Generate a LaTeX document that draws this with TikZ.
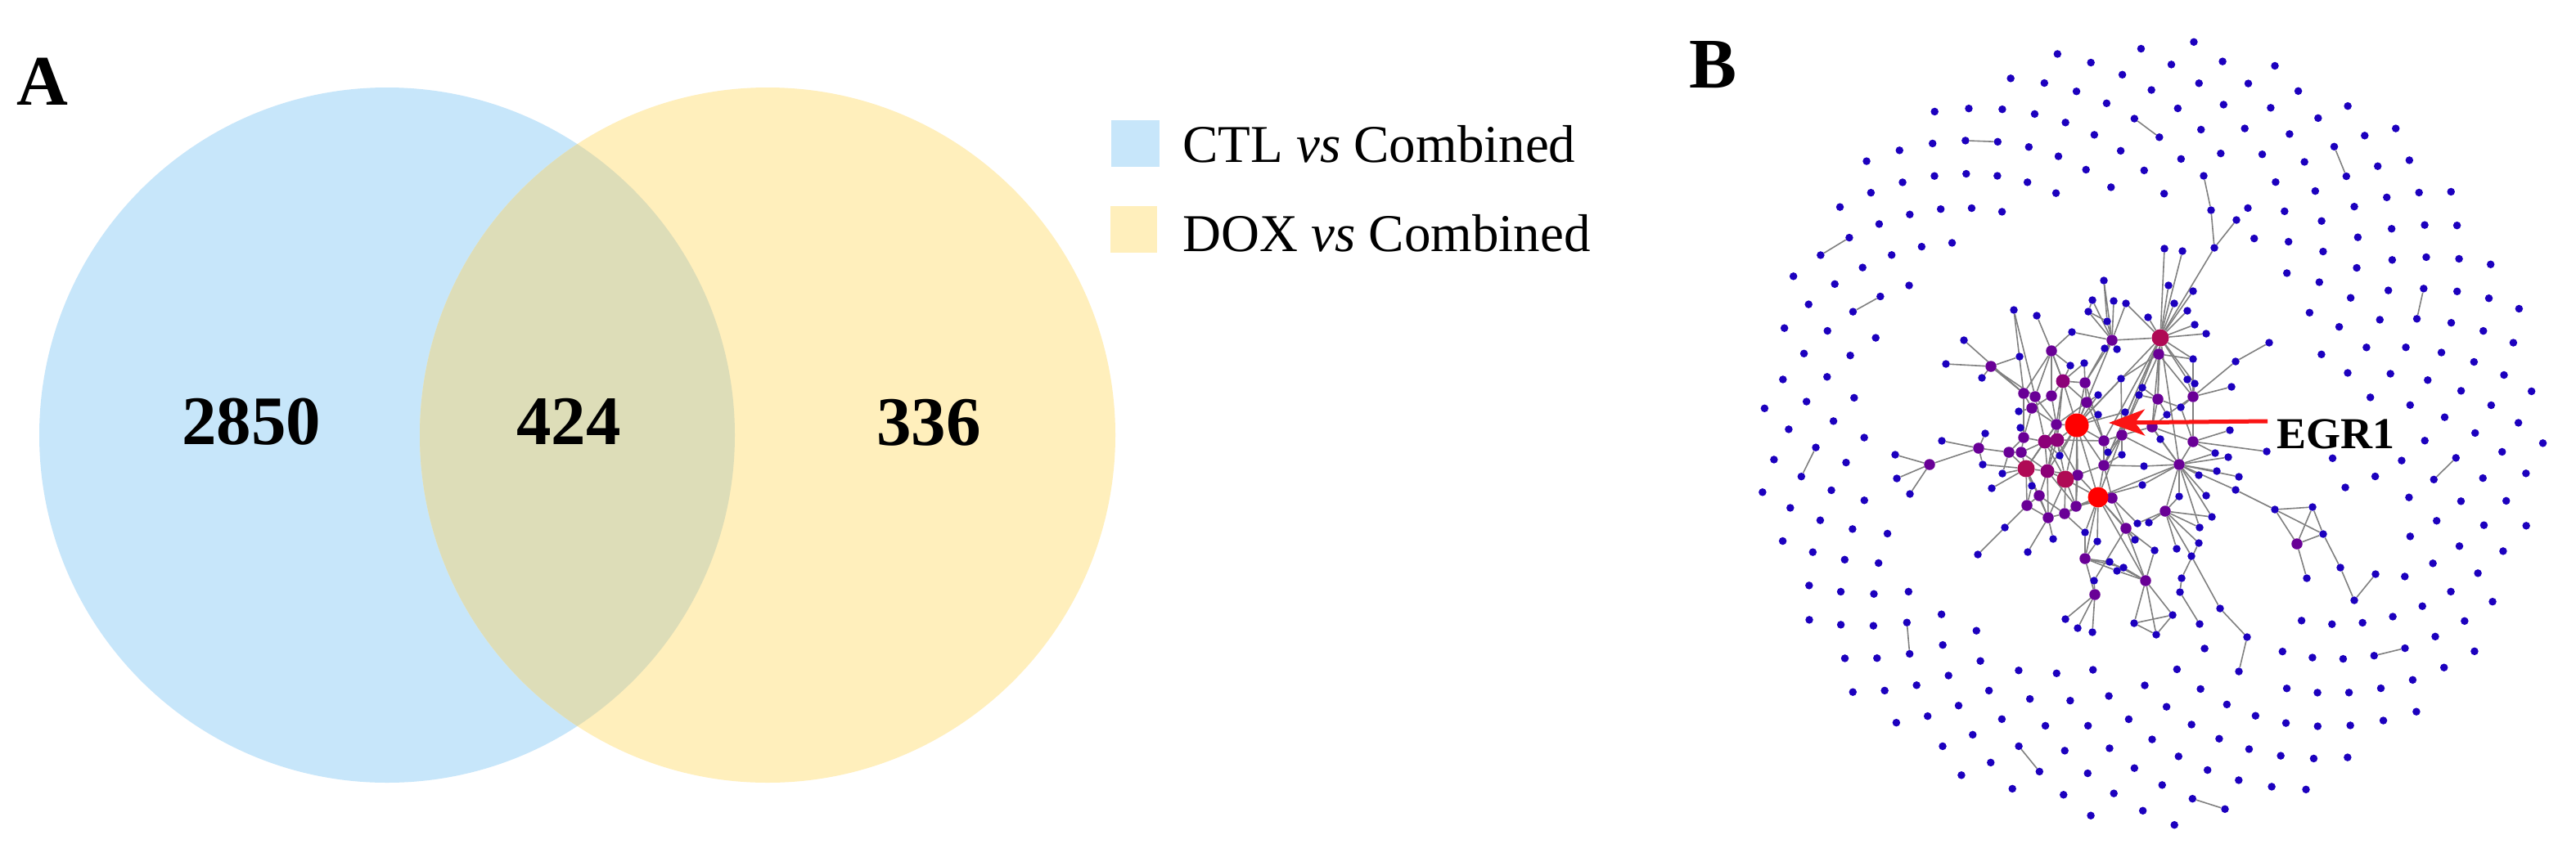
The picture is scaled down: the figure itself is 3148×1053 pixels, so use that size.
\documentclass[tikz,border=0pt]{standalone}
\usepackage{fontspec}
\setmainfont{Liberation Serif}
\usetikzlibrary{arrows.meta}
\pgfdeclarelayer{bg}
\pgfsetlayers{bg,main}
\definecolor{vennblue}{RGB}{199,230,250}
\definecolor{vennyellow}{RGB}{255,239,188}
\definecolor{vennmix}{RGB}{221,221,184}
\definecolor{netblue}{RGB}{28,0,190}
\definecolor{netpurple}{RGB}{105,0,150}
\definecolor{netplum}{RGB}{140,0,120}
\definecolor{netmagenta}{RGB}{175,10,85}
\definecolor{netred}{RGB}{255,0,0}
\definecolor{linkgray}{RGB}{128,128,128}
\definecolor{arrowred}{RGB}{250,20,20}
\begin{document}
\begin{tikzpicture}[x=1pt,y=-1pt,
  dotb/.style={circle,fill=netblue,inner sep=0pt,minimum size=9.5pt},
  dotp/.style={circle,fill=netpurple,inner sep=0pt,minimum size=13.5pt},
  dotq/.style={circle,fill=netplum,inner sep=0pt,minimum size=17pt},
  dotm/.style={circle,fill=netmagenta,inner sep=0pt,minimum size=21pt},
  dotr/.style={circle,fill=netred,inner sep=0pt},
  netlink/.style={draw=linkgray,line width=1.6pt},
  numlab/.style={anchor=base,inner sep=0pt,font=\bfseries\fontsize{85}{85}\selectfont},
  panellab/.style={anchor=base,inner sep=0pt,font=\bfseries\fontsize{87}{87}\selectfont},
  legtext/.style={anchor=base west,inner sep=0pt,font=\fontsize{65}{65}\selectfont},
  egrarrow/.style={draw=arrowred,line width=5pt,-{Stealth[length=44pt,width=32pt,inset=12pt]}}
]
\begin{pgfonlayer}{bg}
\fill[white] (0,0) rectangle (3148,1053);
\end{pgfonlayer}
\useasboundingbox (0,0) rectangle (3148,1053);

% ---------------- Panel A: Venn diagram ----------------
\fill[vennblue] (473,532) circle[radius=425pt];
\fill[vennyellow] (938,532) circle[radius=425pt];
\begin{scope}
  \clip (473,532) circle[radius=425pt];
  \fill[vennmix] (938,532) circle[radius=425pt];
\end{scope}
\node[panellab] (labA) at (52,128) {A};
\node[numlab] (nctl) at (307,543) {2850};
\node[numlab] (nboth) at (695,543) {424};
\node[numlab] (ndox) at (1135,544) {336};

% legend
\fill[vennblue] (1358,147) rectangle (1417,204);
\fill[vennyellow] (1357,252) rectangle (1414,309);
\node[legtext] (legctl) at (1445,198) {CTL \textit{vs} Combined};
\node[legtext] (legdox) at (1445,307) {DOX \textit{vs} Combined};

% ---------------- Panel B: network ----------------
\node[panellab] (labB) at (2093,107) {B};

% outer isolated nodes (annular spiral)
\foreach \i in {0,...,379}{
  \pgfmathsetmacro{\sfr}{100*sqrt(4+19.2324*(\i+0.5)/380)}
  \pgfmathsetmacro{\sfa}{360*frac(0.381966*\i)}
  \pgfmathsetmacro{\sfx}{2627+\sfr*cos(\sfa)}
  \pgfmathsetmacro{\sfy}{530+\sfr*sin(\sfa)}
  \pgfmathsetmacro{\sfd}{veclen((\sfx-2565)/100,(\sfy-525)/100)}
  \pgfmathtruncatemacro{\sfk}{(\sfd<2.85) || (\sfx>2765 && \sfx<2920 && \sfy>600 && \sfy<750) || (\sfx>2680 && \sfx<2745 && \sfy>195 && \sfy<310) || (\sfx>2700 && \sfx<2765 && \sfy>735 && \sfy<845) || (\sfx>2776 && \sfx<2934 && \sfy>503 && \sfy<555)}
  \ifnum\sfk=0 \node[dotb] (o\i) at (\sfx,\sfy) {};\fi
}

% cluster nodes
\foreach \n/\x/\y in {1/2645/304,2/2667/307,3/2706/303,9/2650/349,10/2680/356,11/2571/343,12/2557/367,13/2583/368,14/2598/371,15/2657/371,16/2673/380,17/2461/379,18/2489/386,19/2552/381,20/2625/388,21/2575/393,22/2682/397,23/2532/406,26/2696/408,27/2773/419,28/2400/416,29/2572/426,30/2587/427,34/2378/445,35/2468/436,36/2422/462,37/2530/447,38/2547/444,39/2680/439,40/2732/442,43/2592/463,44/2673/464,45/2682/469,50/2564/483,51/2618/474,52/2614/483,55/2727/473,56/2467/503,58/2564/507,59/2597/504,60/2665/498,61/2648/507,64/2469/523,67/2426/530,72/2640/537,74/2725/526,75/2373/539,79/2517/557,80/2576/553,81/2593/556,82/2707/554,83/2723/559,84/2770/552,85/2316/556,87/2423/568,93/2620/570,95/2687/581,96/2709/576,97/2736/583,98/2318/585,99/2447/579,100/2434/597,101/2483/594,102/2618/593,103/2732/599,104/2334/604,108/2663/607,109/2696/606,115/2703/632,116/2780/623,117/2450/645,119/2612/640,120/2626/639,121/2688/645,122/2509/659,123/2548/651,124/2609/660,125/2563/662,126/2687/664,127/2417/678,128/2478/675,129/2633/673,130/2660/671,131/2678/680,133/2578/687,134/2587/698,135/2595/694,137/2666/707,138/2664/724,139/2559/710,141/2713/744,142/2524/757,143/2539/768,144/2557/773,145/2655/752,146/2608/762,147/2635/776,148/2688/763,149/2746/779,150/2826/620,151/2839/653,153/2819/707,154/2860/694,155/2877/734,156/2903/702,157/2693/215,158/2702/257,159/2733/269,160/2736/821}
  \node[dotb] (c\n) at (\x,\y) {};
\foreach \n/\x/\y in {25/2581/416,31/2638/433,32/2507/429,33/2433/448,42/2548/468,46/2473/481,47/2487/485,48/2507/484,49/2550/492,53/2637/488,54/2680/485,57/2483/499,62/2513/519,65/2630/522,66/2593/532,68/2473/535,71/2571/539,73/2680/540,76/2418/548,77/2455/553,78/2470/553,86/2358/568,91/2539/581,92/2571/569,94/2663/568,105/2492/606,107/2581/609,110/2477/618,111/2503/633,112/2523/628,113/2537/619,114/2646/625,118/2598/646,132/2548/683,136/2622/710,140/2560/727,152/2807/665}
  \node[dotp] (c\n) at (\x,\y) {};
\foreach \n/\x/\y in {41/2521/466,69/2499/540,70/2514/538,89/2502/576}
  \node[dotq] (c\n) at (\x,\y) {};
\foreach \n/\x/\y in {24/2640/413,88/2476/573,90/2524/586}
  \node[dotm] (c\n) at (\x,\y) {};
\node[dotr,minimum size=25pt] (c106) at (2564,608) {};
\node[dotr,minimum size=29pt] (c63) at (2538,520) {};

% links (behind the nodes)
\begin{pgfonlayer}{bg}
\foreach \a/\b in {157/158,158/3,159/3,3/24,1/24,2/24,9/24,10/24,15/24,16/24,22/24,26/24,20/24,25/24,31/24,39/24,44/24,45/24,14/24,53/24,24/66,24/71,
31/39,31/53,31/54,31/65,31/43,
25/19,25/13,25/21,25/29,25/30,25/23,25/42,25/11,25/14,25/12,
32/18,32/23,32/37,32/41,32/46,32/47,32/48,
17/46,17/47,
33/34,33/36,33/35,33/46,33/47,28/46,
41/37,41/38,41/42,41/48,41/62,41/63,41/49,41/70,
42/38,42/49,42/63,42/29,
49/63,49/58,49/50,49/62,
12/19,19/21,11/21,
27/40,40/54,55/54,
54/44,54/45,54/39,54/73,54/61,54/60,
53/51,53/52,53/61,53/65,53/60,
43/66,59/63,59/66,
57/56,57/48,57/62,57/68,57/46,
62/63,62/69,62/70,62/47,
63/58,63/70,63/71,63/91,63/90,63/89,63/113,63/106,63/50,63/79,63/92,63/43,
65/72,65/61,65/66,65/73,65/94,
66/80,66/81,66/71,66/59,66/92,
64/68,67/76,68/69,68/77,68/78,
69/70,69/78,69/88,69/89,69/79,
70/71,70/89,70/90,70/79,
71/80,71/92,
73/74,73/82,73/94,73/60,73/84,
75/76,76/77,76/86,76/87,
77/78,77/88,77/99,78/88,78/89,
88/89,88/101,88/105,88/110,88/99,88/100,87/88,
89/90,89/105,89/111,89/91,
90/91,90/112,90/113,90/111,90/106,
91/106,91/113,
92/106,92/81,92/93,92/107,
94/93,94/95,94/96,94/97,94/103,94/109,94/108,94/82,94/83,94/102,94/72,94/114,94/115,94/121,
103/116,116/150,116/151,116/152,150/152,150/151,152/151,152/153,151/154,154/155,155/156,
106/107,106/113,106/112,106/118,106/123,106/125,106/132,106/124,106/102,
107/118,107/119,
110/105,110/111,110/117,110/101,
111/112,111/122,111/128,111/105,
112/113,112/123,
114/120,114/119,114/121,114/126,114/130,114/131,114/115,114/108,
118/124,118/129,118/136,118/139,
117/127,
132/133,132/134,132/135,132/125,132/123,
136/133,136/134,136/135,136/146,136/145,136/147,136/129,
145/146,145/147,146/147,
140/139,140/142,140/143,140/144,140/132,
126/137,137/138,138/148,
141/131,141/149,149/160,
86/85,86/98,86/104,
24/63,24/92,94/66,25/63,31/66,90/92,88/62,89/113,105/112,41/32,62/88,48/62,47/69,46/68,70/91,69/90,
92/24,42/71,106/94,136/106,94/24,66/106,113/107,88/111,49/71,62/89}
  \draw[netlink] (c\a) -- (c\b);
\foreach \i [evaluate=\i as \j using int(\i+34)] in {165,170,180,190,200,215,230,240,250,260,300,320}
  \draw[netlink] (o\i) -- (o\j);
\end{pgfonlayer}

% EGR1 label and arrow
\node[anchor=base west,inner sep=0pt,font=\bfseries\fontsize{54}{54}\selectfont] (egrlab) at (2782,548) {EGR1};
\coordinate (arrtail) at (2771,515);
\coordinate (arrtip) at (2577,517);
\draw[egrarrow] (arrtail) -- (arrtip);
\end{tikzpicture}
\end{document}
